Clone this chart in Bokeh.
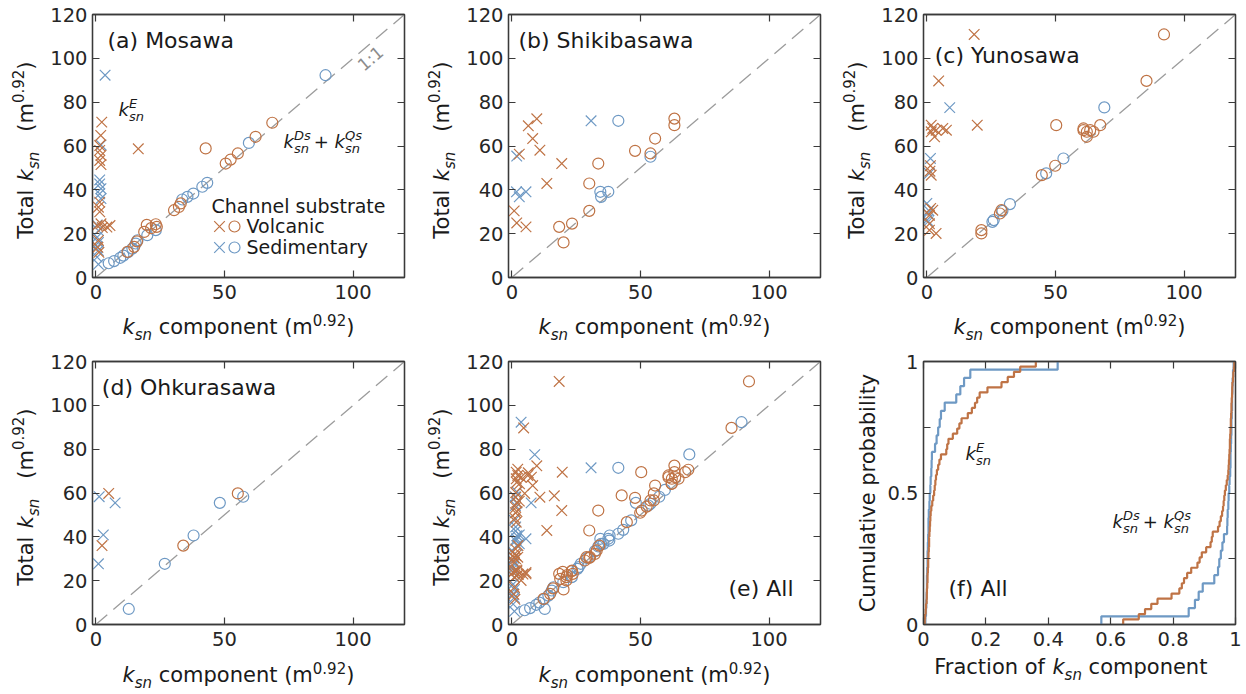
import math
from bokeh.plotting import figure
from bokeh.models import (ColumnDataSource, Label, LinearAxis, Range1d, Slope,
                          FixedTicker, CustomJSTickFormatter)
from bokeh.layouts import column, row
from bokeh.embed import file_html
from bokeh.resources import INLINE

# ---------------------------------------------------------------- data
scatter_xticks = [0, 50, 100]
scatter_xtick_labels = ["0", "50", "100"]
scatter_yticks = [0, 20, 40, 60, 80, 100, 120]
scatter_ytick_labels = ["0", "20", "40", "60", "80", "100", "120"]
cdf_xticks = [0, 0.2, 0.4, 0.6, 0.8, 1]
cdf_xtick_labels = ["0", "0.2", "0.4", "0.6", "0.8", "1"]
cdf_yticks = [0, 0.25, 0.5, 0.75, 1]
cdf_ytick_labels = ["0", "", "0.5", "", "1"]
substrates = ["Volcanic", "Sedimentary"]
panel_titles = ["(a) Mosawa", "(b) Shikibasawa", "(c) Yunosawa",
                "(d) Ohkurasawa", "(e) All", "(f) All"]

# (component value, total ksn) pairs; E = ksn^E (crosses), DQ = ksn^Ds + ksn^Qs (circles)
mos_volc_E = [(2.3, 70.9), (1.9, 64.8), (1.5, 60.2), (1.5, 58.0), (2.0, 55.7), (1.5, 53.4),
              (2.0, 51.5), (16.5, 58.7), (1.5, 34.4), (1.0, 32.1), (1.5, 30.0), (2.0, 24.5),
              (0.5, 23.7), (2.5, 22.8), (4.3, 23.0), (5.5, 23.7), (1.0, 16.9), (0.8, 13.8),
              (1.2, 11.5)]
mos_volc_DQ = [(12.3, 11.7), (14.9, 14.0), (16.0, 16.5), (18.8, 20.8), (19.8, 24.0),
               (21.5, 22.5), (23.3, 24.3), (23.7, 23.1), (30.4, 30.7), (32.3, 32.2),
               (33.0, 33.8), (42.7, 58.9), (50.5, 52.0), (52.4, 53.8), (55.2, 56.6),
               (62.1, 64.2), (68.6, 70.6)]
mos_sed_E = [(3.6, 92.3), (2.0, 60.5), (1.5, 44.5), (1.5, 42.7), (2.0, 40.5), (1.5, 38.2),
             (2.0, 36.0), (0.5, 24.0), (1.0, 21.4), (0.5, 18.4), (1.0, 16.0), (0.5, 14.0),
             (1.0, 12.3), (0.5, 9.3), (1.0, 6.0)]
mos_sed_DQ = [(5.0, 6.5), (7.1, 7.5), (9.5, 9.0), (10.7, 10.0), (12.5, 11.5), (14.2, 13.2),
              (15.5, 15.5), (16.2, 17.0), (20.0, 19.3), (23.3, 21.6), (33.6, 35.6),
              (35.6, 36.8), (37.9, 38.3), (41.4, 41.4), (43.3, 43.2), (59.5, 61.4),
              (89.3, 92.3)]

shk_volc_E = [(0.9, 30.4), (1.9, 24.9), (5.5, 23.1), (2.9, 56.3), (6.4, 69.2), (9.7, 72.4),
              (8.1, 63.4), (10.9, 58.1), (13.6, 42.9), (19.4, 52.0)]
shk_volc_DQ = [(18.4, 23.1), (20.1, 16.0), (23.4, 24.6), (30.1, 30.4), (30.1, 42.9),
               (33.6, 52.0), (47.9, 57.8), (53.9, 56.6), (55.7, 63.4), (63.2, 72.5),
               (63.2, 69.5)]
shk_sed_E = [(1.9, 55.4), (1.8, 39.1), (2.9, 36.8), (5.5, 39.1), (30.8, 71.5)]
shk_sed_DQ = [(41.4, 71.5), (34.4, 39.1), (34.7, 36.8), (37.5, 39.1), (53.9, 55.1)]

yun_volc_E = [(18.4, 110.9), (4.6, 89.7), (19.6, 69.5), (1.7, 69.5), (2.3, 68.0), (3.6, 67.2),
              (1.7, 66.5), (3.0, 64.2), (6.2, 68.0), (7.6, 67.2), (1.4, 51.0), (1.7, 46.7),
              (1.2, 48.5), (2.3, 30.7), (1.0, 28.4), (1.0, 21.6), (3.6, 20.1), (1.5, 31.5),
              (1.0, 24.5)]
yun_volc_DQ = [(92.2, 110.9), (85.4, 89.7), (50.3, 69.5), (60.9, 68.0), (60.9, 67.2),
               (62.2, 66.5), (63.5, 67.2), (64.8, 66.5), (67.4, 69.5), (62.2, 64.2),
               (49.9, 51.0), (44.7, 46.7), (21.2, 21.6), (21.2, 20.1), (29.0, 30.7),
               (28.4, 29.2)]
yun_sed_E = [(8.9, 77.5), (1.4, 54.3), (1.0, 47.5), (0.0, 33.8), (0.4, 29.2), (0.1, 26.2),
             (0.5, 25.5), (0.8, 30.5)]
yun_sed_DQ = [(69.0, 77.6), (53.1, 54.3), (46.4, 47.5), (32.3, 33.5), (25.5, 25.4),
              (26.0, 26.2), (29.4, 30.4)]

ohk_volc_E = [(5.0, 59.8), (2.4, 36.0)]
ohk_volc_DQ = [(55.2, 59.8), (34.0, 36.0)]
ohk_sed_E = [(1.3, 58.3), (7.5, 55.5), (2.9, 40.9), (1.0, 27.7)]
ohk_sed_DQ = [(12.8, 7.1), (26.8, 27.7), (38.0, 40.6), (48.2, 55.5), (57.3, 58.3)]

# fraction of ksn^E in total ksn, all reaches (panel f)
frac_E_volc = [0.004, 0.005, 0.007, 0.008, 0.010, 0.0105, 0.011, 0.012, 0.013, 0.013,
               0.014, 0.015, 0.015, 0.016, 0.017, 0.018, 0.018, 0.019, 0.020, 0.021,
               0.022, 0.023, 0.025, 0.028, 0.031, 0.034, 0.036, 0.038, 0.040, 0.043,
               0.047, 0.051, 0.056, 0.073, 0.076, 0.080, 0.094, 0.108, 0.115, 0.122,
               0.142, 0.155, 0.165, 0.172, 0.180, 0.205, 0.250, 0.270, 0.290, 0.310, 0.360]
frac_E_sed = [0.006, 0.008, 0.009, 0.010, 0.011, 0.011, 0.012, 0.013, 0.013, 0.014,
              0.015, 0.016, 0.016, 0.017, 0.019, 0.020, 0.022, 0.023, 0.025, 0.026,
              0.027, 0.037, 0.042, 0.047, 0.052, 0.056, 0.068, 0.105, 0.118, 0.130,
              0.150, 0.430]

# ---------------------------------------------------------------- style
ORANGE = "#bf7345"
BLUE = "#6e99c4"
FONT = "DejaVu Sans"
AXC = "#3a3a3a"
TXT = "#1a1a1a"
FW, FH = 312, 263
BTOP, BBOT = 14, 30  # borders above / below each panel frame
BLEFT = 48           # left border of the scatter panels (room for tick labels)
STRIP_H = 40         # height of the strips that carry the x labels
MID = 0.346          # baseline -> vertical middle of the text box, in em

W = {' ': 651, '(': 799, ')': 799, '.': 651, ':': 690, '+': 1716,
     'A': 1401, 'C': 1430, 'D': 1577, 'E': 1294, 'F': 1178, 'M': 1767, 'O': 1612,
     'Q': 1612, 'S': 1300, 'T': 1251, 'Y': 1251,
     'a': 1255, 'b': 1300, 'c': 1126, 'd': 1300, 'e': 1260, 'f': 721, 'g': 1300,
     'h': 1298, 'i': 569, 'k': 1186, 'l': 569, 'm': 1995, 'n': 1298, 'o': 1253,
     'p': 1300, 'r': 842, 's': 1067, 't': 803, 'u': 1298, 'v': 1212, 'w': 1675, 'y': 1212}
for d in "0123456789":
    W[d] = 1303


def tw(s, size):
    return sum(W.get(ch, 1250) for ch in s) / 2048.0 * size


def rich(p, x, y, pieces, angle=0.0, align="left", color=TXT):
    """Place a run of text pieces; (x, y) = start of the baseline in frame pixels.
    pieces: (text, size, style, dy, advance) ; advance True / False / number."""
    layout, pos = [], 0.0
    for t, s, st, dy, adv in pieces:
        lead = len(t) - len(t.lstrip(" "))
        vis = t.strip(" ")
        w_vis = tw(vis, s)
        layout.append((pos + tw(" " * lead, s) + w_vis / 2.0, vis, s, st, dy + MID * s))
        if adv is True:
            pos += tw(t, s)
        elif adv:
            pos += adv
    start = {"left": 0.0, "center": pos / 2.0, "right": pos}[align]
    c, sn = math.cos(angle), math.sin(angle)
    for ac, vis, s, st, dyc in layout:
        a = ac - start
        p.add_layout(Label(x=x + a * c - dyc * sn, y=y + a * sn + dyc * c,
                           x_units="screen", y_units="screen", text=vis, angle=angle,
                           text_font=FONT, text_font_size=f"{s}px", text_font_style=st,
                           text_color=color, text_align="center", text_baseline="middle"))


def ksn(sup=None, size=21, small=15):
    pcs = [("k", size, "italic", 0, True)]
    if sup:
        pcs.append((sup, small, "italic", round(0.45 * size), 0))
        pcs.append(("sn", small, "italic", -round(0.27 * size),
                    max(tw("sn", small), tw(sup, small)) + 3))
    else:
        pcs.append(("sn", small, "italic", -round(0.27 * size), True))
    return pcs


def fmt(tick_values, tick_texts):
    return CustomJSTickFormatter(args=dict(tv=tick_values, tt=tick_texts), code="""
        for (let i = 0; i < tv.length; i++) {
            if (Math.abs(tv[i] - tick) < 1e-9) { return tt[i]; }
        }
        return '';""")


def strip_fig(w, h):
    f = figure(width=w, height=h, x_range=Range1d(0, 1), y_range=Range1d(0, 1),
               x_axis_location=None, y_axis_location=None, min_border=0,
               outline_line_color=None, toolbar_location=None, output_backend="svg",
               background_fill_color="white", border_fill_color="white")
    f.grid.visible = False
    return f


def ylab_fig(w):
    # same vertical borders as the panels, so its frame lines up with theirs
    f = figure(frame_width=w, frame_height=FH, x_range=Range1d(0, 1), y_range=Range1d(0, 1),
               x_axis_location=None, y_axis_location=None, min_border_left=0,
               min_border_right=0, min_border_top=BTOP, min_border_bottom=BBOT,
               outline_line_color=None, toolbar_location=None, output_backend="svg",
               background_fill_color="white", border_fill_color="white")
    f.grid.visible = False
    return f


def make_fig(xr, yr, xt, xl, yt, yl, left, right):
    p = figure(frame_width=FW, frame_height=FH, x_range=Range1d(*xr), y_range=Range1d(*yr),
               output_backend="svg", toolbar_location=None,
               min_border_left=left, min_border_right=right, min_border_top=BTOP,
               min_border_bottom=BBOT, background_fill_color="white",
               border_fill_color="white", outline_line_color=AXC, outline_line_width=1.3)
    p.grid.visible = False
    top = LinearAxis()
    rgt = LinearAxis()
    p.add_layout(top, "above")
    p.add_layout(rgt, "right")
    for ax, ticks, labels in ((p.below[0], xt, xl), (p.left[0], yt, yl),
                              (top, xt, [""] * len(xt)), (rgt, yt, [""] * len(yt))):
        ax.ticker = FixedTicker(ticks=ticks)
        ax.formatter = fmt(ticks, labels)
        ax.major_tick_in = 7
        ax.major_tick_out = 0
        ax.minor_tick_line_color = None
        ax.major_tick_line_color = AXC
        ax.major_tick_line_width = 1.2
        ax.axis_line_color = AXC
        ax.axis_line_width = 1.3
        ax.major_label_text_font = FONT
        ax.major_label_text_font_size = "19.5px"
        ax.major_label_text_color = "#262626"
    p.below[0].major_label_standoff = 7
    p.left[0].major_label_standoff = 5
    for ax in (top, rgt):
        ax.major_label_text_font_size = "0px"
        ax.major_label_standoff = 0
    return p


def xy(pts):
    return dict(x=[a for a, b in pts], y=[b for a, b in pts])


def scatter_panel(volc_E, volc_DQ, sed_E, sed_DQ, right):
    p = make_fig((-1.3, 120), (0, 120), scatter_xticks, scatter_xtick_labels,
                 scatter_yticks, scatter_ytick_labels, BLEFT, right)
    p.add_layout(Slope(gradient=1, y_intercept=0, line_color="#9c9c9c", line_width=1.3,
                       line_dash="15 8", level="underlay"))
    for pts, col in ((sed_DQ, BLUE), (volc_DQ, ORANGE)):
        p.scatter("x", "y", source=ColumnDataSource(xy(pts)), marker="circle", size=11,
                  fill_color=None, line_color=col, line_width=1.2)
    for pts, col in ((sed_E, BLUE), (volc_E, ORANGE)):
        p.scatter("x", "y", source=ColumnDataSource(xy(pts)), marker="x", size=15,
                  line_color=col, line_width=1.2)
    return p


def ylabel_total(f, sx, sy):
    rich(f, sx, sy, [("Total ", 21, "normal", 0, True)] + ksn() +
         [("   (m", 21, "normal", 0, True), ("0.92", 15, "normal", 10, True),
          (")", 21, "normal", 0, True)], angle=math.pi / 2)


def xlabel_comp(f, sx, sy):
    rich(f, sx, sy, ksn() + [(" component (m", 21, "normal", 0, True),
                             ("0.92", 15, "normal", 9, True), (")", 21, "normal", 0, True)])


# ---------------------------------------------------------------- scatter panels
pa = scatter_panel(mos_volc_E, mos_volc_DQ, mos_sed_E, mos_sed_DQ, 19)
pb = scatter_panel(shk_volc_E, shk_volc_DQ, shk_sed_E, shk_sed_DQ, 18)
pc = scatter_panel(yun_volc_E, yun_volc_DQ, yun_sed_E, yun_sed_DQ, 10)
pd = scatter_panel(ohk_volc_E, ohk_volc_DQ, ohk_sed_E, ohk_sed_DQ, 19)
pe = scatter_panel(mos_volc_E + shk_volc_E + yun_volc_E + ohk_volc_E,
                   mos_volc_DQ + shk_volc_DQ + yun_volc_DQ + ohk_volc_DQ,
                   mos_sed_E + shk_sed_E + yun_sed_E + ohk_sed_E,
                   mos_sed_DQ + shk_sed_DQ + yun_sed_DQ + ohk_sed_DQ, 18)

# titles
rich(pa, 15, 229, [(panel_titles[0], 22, "normal", 0, True)])
rich(pb, 10, 229, [(panel_titles[1], 22, "normal", 0, True)])
rich(pc, 10, 214, [(panel_titles[2], 22, "normal", 0, True)])
rich(pd, 9, 229, [(panel_titles[3], 22, "normal", 0, True)])
rich(pe, 285, 28, [(panel_titles[4], 22, "normal", 0, True)], align="right")

# annotations in (a)
ang = math.atan2(FH / 120.0, FW / 121.3)
pa.add_layout(Label(x=278, y=219, x_units="screen", y_units="screen", text="1:1",
                    angle=ang, text_font=FONT, text_font_size="17px", text_color="#8c8c8c",
                    text_align="center", text_baseline="middle"))
rich(pa, 26, 162, ksn("E", 18, 13))
rich(pa, 191, 130, ksn("Ds", 18, 13) + [("+ ", 18, "normal", 0, True)] + ksn("Qs", 18, 13))

# legend of (a)
rich(pa, 119, 65, [("Channel substrate", 19, "normal", 0, True)])
xr_a = pa.x_range
yr_a = pa.y_range


def sx2d(sx):
    return xr_a.start + sx * (xr_a.end - xr_a.start) / FW


def sy2d(sy):
    return yr_a.start + sy * (yr_a.end - yr_a.start) / FH


for sy, col, name in ((51, ORANGE, substrates[0]), (30, BLUE, substrates[1])):
    pa.scatter([sx2d(127)], [sy2d(sy)], marker="x", size=15, line_color=col, line_width=1.2)
    pa.scatter([sx2d(142)], [sy2d(sy)], marker="circle", size=11, fill_color=None,
               line_color=col, line_width=1.2)
    rich(pa, 154, sy - 6, [(name, 19, "normal", 0, True)])

# ---------------------------------------------------------------- panel (f)
pf = make_fig((0, 1), (0, 1), cdf_xticks, cdf_xtick_labels, cdf_yticks, cdf_ytick_labels,
              42, 10)


def ecdf(vals):
    v = sorted(vals)
    n = len(v)
    return [v[0]] + v, [0.0] + [(i + 1) / n for i in range(n)]


for fr, col in ((frac_E_sed, BLUE), (frac_E_volc, ORANGE)):
    ex, ey = ecdf(fr)
    pf.step(ex, ey, mode="after", line_color=col, line_width=2.2)
    dx, dy = ecdf([1.0 - f for f in fr])
    pf.step(dx, dy, mode="after", line_color=col, line_width=2.2)

rich(pf, 42, 165, ksn("E", 18, 13))
rich(pf, 189, 97, ksn("Ds", 18, 13) + [("+ ", 18, "normal", 0, True)] + ksn("Qs", 18, 13))
rich(pf, 25, 28, [(panel_titles[5], 22, "normal", 0, True)])

# ---------------------------------------------------------------- axis-title strips
# panel frames start at x = 92, 508, 923 on the page
yl_a, yl_d = ylab_fig(92 - BLEFT), ylab_fig(92 - BLEFT)
yl_b, yl_c, yl_e = ylab_fig(85 - BLEFT), ylab_fig(85 - BLEFT), ylab_fig(85 - BLEFT)
yl_f = ylab_fig(85 - 42)
# "Total" starts 37 px above the frame bottom; baseline 59 px left of the frame
for f, sx in ((yl_a, 33), (yl_b, 26), (yl_c, 26), (yl_d, 33), (yl_e, 26)):
    ylabel_total(f, sx, 37)
rich(yl_f, 37, FH / 2.0, [("Cumulative probability", 21, "normal", 0, True)],
     angle=math.pi / 2, align="center")

xs1 = strip_fig(1245, STRIP_H)
xs2 = strip_fig(1245, STRIP_H)
# x-label baselines: 57 px below the frame bottom (scatter), 50 px for (f)
for fl in (92, 508, 923):
    xlabel_comp(xs1, fl + 30, STRIP_H + BBOT - 57)
for fl in (92, 508):
    xlabel_comp(xs2, fl + 30, STRIP_H + BBOT - 58)
rich(xs2, 933, STRIP_H + BBOT - 50, [("Fraction of ", 21, "normal", 0, True)] + ksn() +
     [(" component", 21, "normal", 0, True)])

layout = column(row(yl_a, pa, yl_b, pb, yl_c, pc), xs1,
                row(yl_d, pd, yl_e, pe, yl_f, pf), xs2)
open("out.html", "w").write(file_html(layout, INLINE))
